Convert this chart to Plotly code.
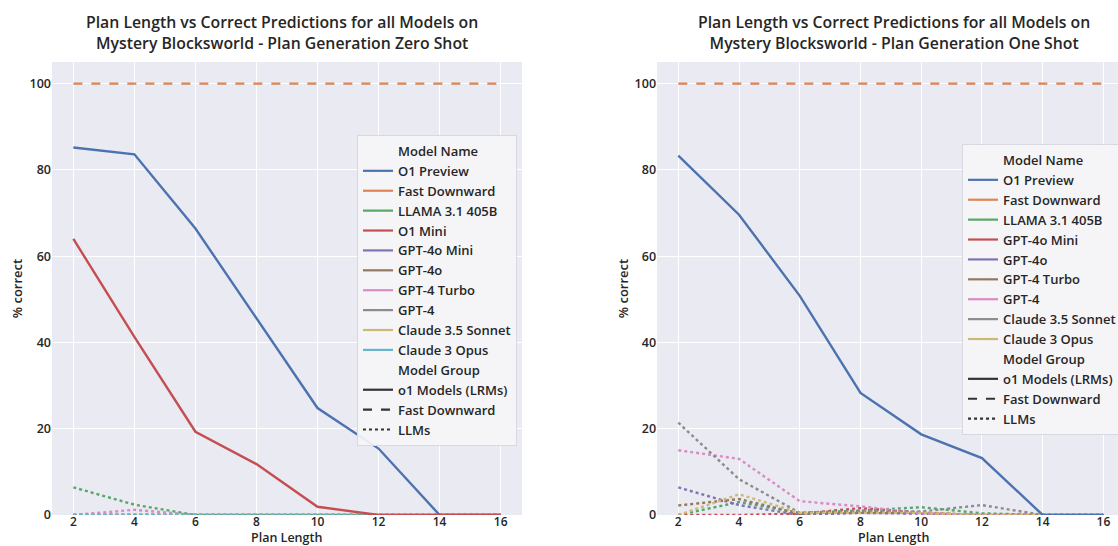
import plotly.graph_objects as go

# ---------------- data ----------------
plan_length = [2, 4, 6, 8, 10, 12, 14, 16]
x_ticks = [2, 4, 6, 8, 10, 12, 14, 16]
y_ticks = [0, 20, 40, 60, 80, 100]

# Zero shot (left)
zs_models = ["O1 Preview", "Fast Downward", "LLAMA 3.1 405B", "O1 Mini", "GPT-4o Mini",
             "GPT-4o", "GPT-4 Turbo", "GPT-4", "Claude 3.5 Sonnet", "Claude 3 Opus"]
zs_groups = ["o1", "fd", "llm", "o1", "llm", "llm", "llm", "llm", "llm", "llm"]
zs_o1_preview = [85.2, 83.6, 66.4, 45.5, 24.8, 15.4, 0.0, 0.0]
zs_fast_downward = [100, 100, 100, 100, 100, 100, 100, 100]
zs_llama = [6.4, 2.4, 0.0, 0.0, 0.0, 0.0, 0.0, 0.0]
zs_o1_mini = [64.0, 41.3, 19.3, 11.8, 1.9, 0.0, 0.0, 0.0]
zs_gpt4o_mini = [0, 0, 0, 0, 0, 0, 0, 0]
zs_gpt4o = [0, 0, 0, 0, 0, 0, 0, 0]
zs_gpt4_turbo = [0.0, 1.2, 0.0, 0.0, 0.0, 0.0, 0.0, 0.0]
zs_gpt4 = [0, 0, 0, 0, 0, 0, 0, 0]
zs_claude35 = [0, 0, 0, 0, 0, 0, 0, 0]
zs_claude3 = [0, 0, 0, 0, 0, 0, 0, 0]
zs_values = [zs_o1_preview, zs_fast_downward, zs_llama, zs_o1_mini, zs_gpt4o_mini,
             zs_gpt4o, zs_gpt4_turbo, zs_gpt4, zs_claude35, zs_claude3]

# One shot (right)
os_models = ["O1 Preview", "Fast Downward", "LLAMA 3.1 405B", "GPT-4o Mini", "GPT-4o",
             "GPT-4 Turbo", "GPT-4", "Claude 3.5 Sonnet", "Claude 3 Opus"]
os_groups = ["o1", "fd", "llm", "llm", "llm", "llm", "llm", "llm", "llm"]
os_o1_preview = [83.3, 69.6, 50.8, 28.3, 18.7, 13.2, 0.0, 0.0]
os_fast_downward = [100, 100, 100, 100, 100, 100, 100, 100]
os_llama = [0.0, 3.0, 0.5, 1.0, 1.8, 0.4, 0.0, 0.0]
os_gpt4o_mini = [0.0, 0.0, 0.3, 1.6, 0.5, 0.0, 0.0, 0.0]
os_gpt4o = [6.4, 2.3, 0.0, 0.5, 0.3, 0.0, 0.0, 0.0]
os_gpt4_turbo = [2.2, 3.7, 0.3, 0.8, 0.5, 0.0, 0.0, 0.0]
os_gpt4 = [15.0, 13.0, 3.2, 2.0, 0.4, 0.0, 0.0, 0.0]
os_claude35 = [21.4, 8.3, 0.5, 1.0, 0.8, 2.3, 0.0, 0.0]
os_claude3 = [0.0, 4.8, 0.5, 0.5, 0.5, 0.0, 0.0, 0.0]
os_values = [os_o1_preview, os_fast_downward, os_llama, os_gpt4o_mini, os_gpt4o,
             os_gpt4_turbo, os_gpt4, os_claude35, os_claude3]

palette = ["#4c72b0", "#dd8452", "#55a868", "#c44e52", "#8172b3",
           "#937860", "#da8bc3", "#8c8c8c", "#ccb974", "#64b5cd"]
group_names = ["o1 Models (LRMs)", "Fast Downward", "LLMs"]
group_keys = ["o1", "fd", "llm"]
dash_map = {"o1": "solid", "fd": "dash", "llm": "dot"}

titles = ["Plan Length vs Correct Predictions for all Models on<br>Mystery Blocksworld - Plan Generation Zero Shot",
          "Plan Length vs Correct Predictions for all Models on<br>Mystery Blocksworld - Plan Generation One Shot"]

FONT = "Open Sans"
TXT = "#262626"

fig = go.Figure()


def add_panel(models, groups, values, xa, ya, legend_id):
    order = [i for i, g in enumerate(groups) if g == "llm"] + \
            [i for i, g in enumerate(groups) if g == "o1"] + \
            [i for i, g in enumerate(groups) if g == "fd"]
    for i in order:
        fig.add_trace(go.Scatter(
            x=plan_length, y=values[i], mode="lines", xaxis=xa, yaxis=ya,
            line=dict(color=palette[i], width=2.4, dash=dash_map[groups[i]]),
            showlegend=False, hoverinfo="skip"))
    fig.add_trace(go.Scatter(x=[None], y=[None], mode="lines", xaxis=xa, yaxis=ya,
                             name="Model Name", legend=legend_id,
                             line=dict(color="rgba(0,0,0,0)", width=0)))
    for i, m in enumerate(models):
        fig.add_trace(go.Scatter(x=[None], y=[None], mode="lines", xaxis=xa, yaxis=ya,
                                 name=m, legend=legend_id,
                                 line=dict(color=palette[i], width=2.2)))
    fig.add_trace(go.Scatter(x=[None], y=[None], mode="lines", xaxis=xa, yaxis=ya,
                             name="Model Group", legend=legend_id,
                             line=dict(color="rgba(0,0,0,0)", width=0)))
    for g, gn in zip(group_keys, group_names):
        fig.add_trace(go.Scatter(x=[None], y=[None], mode="lines", xaxis=xa, yaxis=ya,
                                 name=gn, legend=legend_id,
                                 line=dict(color="#333333", width=2.2, dash=dash_map[g])))


add_panel(zs_models, zs_groups, zs_values, "x", "y", "legend")
add_panel(os_models, os_groups, os_values, "x2", "y2", "legend2")

axis_common = dict(showgrid=True, gridcolor="white", gridwidth=1, zeroline=False,
                   showline=False, ticks="", automargin=False)
ytick_font = dict(family=FONT, size=12.5, color=TXT, weight=600)
xtick_font = dict(family=FONT, size=12, color=TXT, weight=600)
title_font = dict(family=FONT, size=13, color=TXT, weight=600)
xtitle_font = dict(family=FONT, size=12.5, color=TXT, weight=600)
legend_common = dict(xanchor="left", yanchor="top",
                     bgcolor="rgba(245,245,248,0.92)", bordercolor="#d8d8e0", borderwidth=1,
                     font=dict(family=FONT, size=13, color=TXT, weight=600), itemwidth=30,
                     tracegroupgap=0)

X1 = [0.0465, 0.4669]
X2 = [0.5877, 1.0]
YD = [0.0568, 0.8864]

fig.update_layout(
    width=1118, height=546,
    margin=dict(l=0, r=0, t=0, b=0, autoexpand=False),
    paper_bgcolor="white", plot_bgcolor="#eaeaf2",
    font=dict(family=FONT, color=TXT),
    showlegend=True,
    xaxis=dict(domain=X1, range=[1.3, 16.7], tickvals=x_ticks, anchor="y",
               tickfont=xtick_font, ticklabelstandoff=-2, **axis_common),
    yaxis=dict(domain=YD, range=[0, 105], tickvals=y_ticks, anchor="x", tickfont=ytick_font,
               title=dict(text="% correct", font=title_font, standoff=3), **axis_common),
    xaxis2=dict(domain=X2, range=[1.3, 16.48], tickvals=x_ticks, anchor="y2",
                tickfont=xtick_font, ticklabelstandoff=-2, **axis_common),
    yaxis2=dict(domain=YD, range=[0, 105], tickvals=y_ticks, anchor="x2", tickfont=ytick_font,
                title=dict(text="% correct", font=title_font, standoff=3), **axis_common),
    legend=dict(x=0.3193, y=0.7528, **legend_common),
    legend2=dict(x=0.8605, y=0.7363, **legend_common),
    annotations=[
        dict(text=titles[0], x=0.2518, y=0.9834, xref="paper", yref="paper", xanchor="center", yanchor="top",
             showarrow=False, font=dict(family=FONT, size=15.8, color=TXT, weight=600)),
        dict(text=titles[1], x=0.7992, y=0.9834, xref="paper", yref="paper", xanchor="center", yanchor="top",
             showarrow=False, font=dict(family=FONT, size=15.8, color=TXT, weight=600)),
        dict(text="Plan Length", x=sum(X1) / 2, y=0.0155, xref="paper", yref="paper",
             xanchor="center", yanchor="middle", showarrow=False, font=xtitle_font),
        dict(text="Plan Length", x=0.7992, y=0.0155, xref="paper", yref="paper",
             xanchor="center", yanchor="middle", showarrow=False, font=xtitle_font),
    ],
)

fig.write_html("out.html", config={"displayModeBar": False},
               post_script="document.body.style.margin='0';document.body.style.overflow='hidden';")
